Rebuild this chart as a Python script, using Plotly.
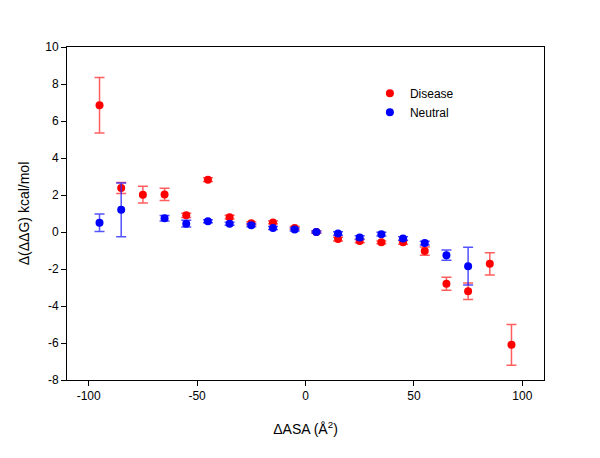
import plotly.graph_objects as go

disease_x = [-95, -85, -75, -65, -55, -45, -35, -25, -15, -5, 5, 15, 25, 35, 45, 55, 65, 75, 85, 95]
disease_y = [6.85, 2.38, 2.02, 2.03, 0.9, 2.83, 0.8, 0.47, 0.52, 0.22, 0.0, -0.38, -0.48, -0.56, -0.56, -1.03, -2.8, -3.2, -1.72, -6.1]
disease_err = [1.5, 0.3, 0.45, 0.33, 0.12, 0.1, 0.1, 0.08, 0.08, 0.08, 0.06, 0.1, 0.1, 0.08, 0.1, 0.22, 0.35, 0.45, 0.6, 1.1]

neutral_x = [-95, -85, -65, -55, -45, -35, -25, -15, -5, 5, 15, 25, 35, 45, 55, 65, 75]
neutral_y = [0.5, 1.2, 0.74, 0.45, 0.58, 0.45, 0.37, 0.22, 0.13, 0.0, -0.08, -0.3, -0.12, -0.35, -0.6, -1.25, -1.85]
neutral_err = [0.47, 1.45, 0.15, 0.18, 0.08, 0.08, 0.08, 0.08, 0.08, 0.06, 0.1, 0.1, 0.1, 0.1, 0.1, 0.28, 1.02]

x_tickvals = [-100, -50, 0, 50, 100]
x_ticktext = ["-100", "-50", "0", "50", "100"]
y_tickvals = [-8, -6, -4, -2, 0, 2, 4, 6, 8, 10]
y_ticktext = ["-8", "-6", "-4", "-2", "0", "2", "4", "6", "8", "10"]

font = "Liberation Sans, Arial, sans-serif"

fig = go.Figure()
fig.add_trace(go.Scatter(
    x=disease_x, y=disease_y, mode="markers", name="Disease",
    marker=dict(color="#ff0000", size=8),
    error_y=dict(type="data", array=disease_err, visible=True,
                 color="rgba(255,40,40,0.75)", thickness=1.5, width=5),
))
fig.add_trace(go.Scatter(
    x=neutral_x, y=neutral_y, mode="markers", name="Neutral",
    marker=dict(color="#0000ff", size=8),
    error_y=dict(type="data", array=neutral_err, visible=True,
                 color="rgba(40,40,255,0.8)", thickness=1.5, width=5),
))

axis_common = dict(
    showgrid=False, zeroline=False, showline=True, mirror=True,
    linecolor="black", linewidth=1, ticks="outside", ticklen=5,
    tickcolor="black", tickfont=dict(family=font, size=12, color="black"),
)

fig.update_layout(
    width=600, height=458,
    margin=dict(l=59, r=64, t=39, b=86),
    paper_bgcolor="white", plot_bgcolor="white",
    font=dict(family=font, size=12, color="black"),
    xaxis=dict(range=[-110, 110], tickvals=x_tickvals, ticktext=x_ticktext,
               title=dict(text="ΔASA (Å<sup>2</sup>)", font=dict(family=font, size=14), standoff=21),
               **axis_common),
    yaxis=dict(range=[-8, 10], tickvals=y_tickvals, ticktext=y_ticktext,
               title=dict(text="Δ(ΔΔG) kcal/mol", font=dict(family=font, size=14), standoff=12),
               **axis_common),
    legend=dict(x=0.635, y=0.905, xanchor="left", yanchor="top",
                bgcolor="rgba(0,0,0,0)", font=dict(family=font, size=12),
                tracegroupgap=0, itemsizing="trace"),
    showlegend=True,
)

fig.write_html("out.html")
